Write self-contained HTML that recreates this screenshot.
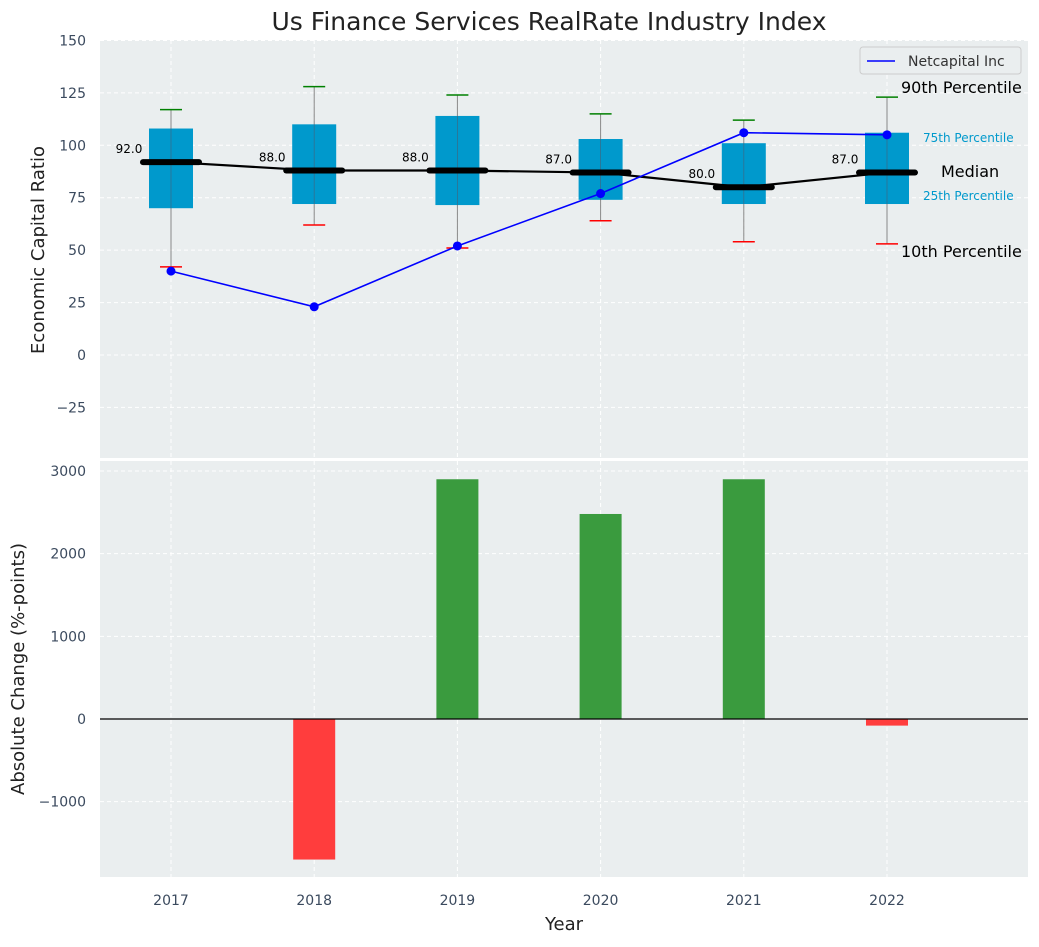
<!DOCTYPE html>
<html><head><meta charset="utf-8"><style>
body{margin:0;background:#fff;font-family:"Liberation Sans","DejaVu Sans",sans-serif}
svg text{font-family:"DejaVu Sans","Liberation Sans",sans-serif}
</style></head><body>
<svg id="c" width="1039" height="942"></svg>
<script>
const years=['2017','2018','2019','2020','2021','2022'];
const p10=[42,62,51,64,54,53];
const p25=[70,72,71.5,74,72,72];
const med=[92,88,88,87,80,87];
const p75=[108,110,114,103,101,106];
const p90=[117,128,124,115,112,123];
const netcap=[40,23,52,77,106,105];
const change=[0,-1700,2900,2480,2900,-80];
const topTicks=[-25,0,25,50,75,100,125,150];
const botTicks=[-1000,0,1000,2000,3000];

const svg=document.getElementById('c');const NS='http://www.w3.org/2000/svg';
function el(t,a,txt,p){const e=document.createElementNS(NS,t);for(const k in a)e.setAttribute(k,a[k]);if(txt!=null)e.textContent=txt;(p||svg).appendChild(e);return e;}
const L=100,R=1028;
const x=i=>171+i*143.2;
const yT=v=>355-v*2.097;
const yB=v=>719-v*0.08267;
const tc='#3b4a5e';
const pt=el('rect',{x:L,y:40,width:R-L,height:418,fill:'#eaeeef'});

const pb=el('rect',{x:L,y:461,width:R-L,height:416,fill:'#eaeeef'});

years.forEach((y,i)=>{
  el('line',{x1:x(i),x2:x(i),y1:40,y2:458,stroke:'#fff','stroke-dasharray':'4,3','stroke-width':1});
  el('line',{x1:x(i),x2:x(i),y1:461,y2:877,stroke:'#fff','stroke-dasharray':'4,3','stroke-width':1});
  const t=el('text',{x:x(i),y:905,'text-anchor':'middle','font-size':14,fill:tc},y);
  
});
topTicks.forEach(v=>{
  el('line',{x1:L,x2:R,y1:yT(v),y2:yT(v),stroke:'#fff','stroke-dasharray':'4,3'});
  const t=el('text',{x:86,y:yT(v)+5,'text-anchor':'end','font-size':14,fill:tc},v<0?'−'+(-v):v);
  
});
botTicks.forEach(v=>{
  el('line',{x1:L,x2:R,y1:yB(v),y2:yB(v),stroke:'#fff','stroke-dasharray':'4,3'});
  const t=el('text',{x:86,y:yB(v)+5,'text-anchor':'end','font-size':14,fill:tc},v<0?'−'+(-v):v);
  
});
years.forEach((y,i)=>{
  const cx=x(i);
  el('line',{x1:cx,x2:cx,y1:yT(p90[i]),y2:yT(p10[i]),stroke:'#888','stroke-width':1});
  const b=el('rect',{x:cx-22,y:yT(p75[i]),width:44,height:yT(p25[i])-yT(p75[i]),fill:'#0099cc'});
  
  el('line',{x1:cx,x2:cx,y1:yT(p75[i]),y2:yT(p25[i]),stroke:'#556',"stroke-width":0.8,opacity:0.6});
  el('line',{x1:cx-11,x2:cx+11,y1:yT(p90[i]),y2:yT(p90[i]),stroke:'green','stroke-width':1.5});
  el('line',{x1:cx-11,x2:cx+11,y1:yT(p10[i]),y2:yT(p10[i]),stroke:'red','stroke-width':1.5});
});
const ml=el('polyline',{points:med.map((v,i)=>x(i)+','+yT(v)).join(' '),fill:'none',stroke:'#000','stroke-width':2.2});

years.forEach((y,i)=>{
  el('line',{x1:x(i)-28,x2:x(i)+28,y1:yT(med[i]),y2:yT(med[i]),stroke:'#000','stroke-width':6,'stroke-linecap':'round'});
  const t=el('text',{x:x(i)-42,y:yT(med[i])-9,'text-anchor':'middle','font-size':12,fill:'#000'},med[i].toFixed(1));
  
});
const nl=el('polyline',{points:netcap.map((v,i)=>x(i)+','+yT(v)).join(' '),fill:'none',stroke:'blue','stroke-width':1.6});

netcap.forEach((v,i)=>{const c=el('circle',{cx:x(i),cy:yT(v),r:4.5,fill:'blue'});});
[['90th Percentile',93,901,16,'#000'],['75th Percentile',142,923,12,'#0099cc'],['Median',177,941,16,'#000'],['25th Percentile',200,923,12,'#0099cc'],['10th Percentile',257,901,16,'#000']].forEach(a=>{
  const t=el('text',{x:a[2],y:a[1],'font-size':a[3],fill:a[4]},a[0]);
  
});
const lg=el('g',{});
el('rect',{x:860,y:47,width:161,height:27,rx:3,fill:'#eaeeef',stroke:'#ccc'},null,lg);
el('line',{x1:867,x2:895,y1:61,y2:61,stroke:'blue','stroke-width':1.6},null,lg);
el('text',{x:908,y:66,'font-size':14,fill:'#333'},'Netcapital Inc',lg);
change.forEach((v,i)=>{
  const y0=yB(0),y1=yB(v);
  const b=el('rect',{x:x(i)-21,y:Math.min(y0,y1),width:42,height:Math.abs(y1-y0),fill:v>=0?'#3a9b3e':'#ff3d3d'});
  
});
el('line',{x1:L,x2:R,y1:yB(0),y2:yB(0),stroke:'#000','stroke-width':1.2});
let t=el('text',{x:549,y:30,'text-anchor':'middle','font-size':25,fill:'#222'},'Us Finance Services RealRate Industry Index');

t=el('text',{x:0,y:0,'text-anchor':'middle','font-size':18,fill:'#222',transform:'translate(44,250) rotate(-90)'},'Economic Capital Ratio');

t=el('text',{x:0,y:0,'text-anchor':'middle','font-size':18,fill:'#222',transform:'translate(24,669) rotate(-90)'},'Absolute Change (%-points)');

t=el('text',{x:564,y:930,'text-anchor':'middle','font-size':18,fill:'#222'},'Year');

</script>
</body></html>
